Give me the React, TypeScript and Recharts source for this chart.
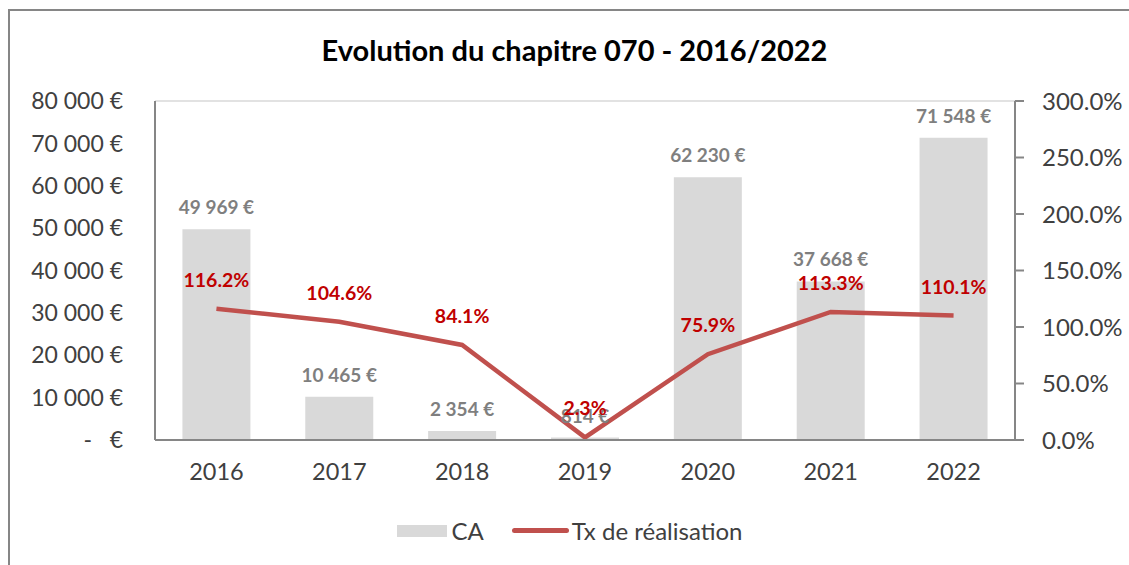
import React from 'react';
import {
  ComposedChart, Bar, Line, XAxis, YAxis, CartesianGrid, Legend, LabelList,
} from 'recharts';

const years = ['2016', '2017', '2018', '2019', '2020', '2021', '2022'];
const ca = [49969, 10465, 2354, 814, 62230, 37668, 71548];
const tauxRealisation = [116.2, 104.6, 84.1, 2.3, 75.9, 113.3, 110.1];
const caTicks = [0, 10000, 20000, 30000, 40000, 50000, 60000, 70000, 80000];
const tauxTicks = [0, 50, 100, 150, 200, 250, 300];

const data = years.map((y, i) => ({ year: y, ca: ca[i], taux: tauxRealisation[i] }));

const FONT = 'Lato, "Open Sans", sans-serif';
const BAR_GREY = '#d9d9d9';
const LINE_RED = '#c0504d';
const LABEL_RED = '#c00000';
const AXIS_GREY = '#868686';
const TEXT = '#404040';

const fmtEuro = (v: number) => {
  if (v === 0) return '-\u00a0\u00a0\u00a0€';
  return `${Math.round(v).toString().replace(/\B(?=(\d{3})+(?!\d))/g, '\u00a0')} €`;
};

function LegendContent() {
  return (
    <div style={{ display: 'flex', justifyContent: 'center', alignItems: 'center',
      fontFamily: FONT, fontSize: 24, color: TEXT }}>
      <span style={{ display: 'inline-block', width: 50, height: 12, background: BAR_GREY, marginRight: 5 }} />
      <span>CA</span>
      <span style={{ display: 'inline-block', width: 57, height: 5, borderRadius: 3,
        background: LINE_RED, marginLeft: 28, marginRight: 3 }} />
      <span>Tx de réalisation</span>
    </div>
  );
}

export default function App() {
  return (
    <div style={{
      position: 'fixed', left: 8, top: 9, width: 1121, height: 556,
      borderTop: `2px solid ${AXIS_GREY}`, borderLeft: `2px solid ${AXIS_GREY}`,
      background: '#fff', fontFamily: FONT,
    }}>
      <div style={{ position: 'absolute', left: 0, top: 21, width: 1129, textAlign: 'center',
        fontSize: 29, fontWeight: 700, color: '#000' }}>
        Evolution du chapitre 070 - 2016/2022
      </div>
      <ComposedChart width={1119} height={554} data={data}
        margin={{ top: 90, right: 14, left: 10, bottom: 95 }} barCategoryGap="21.5%">
        <CartesianGrid vertical={false} stroke="#d9d9d9" strokeWidth={1.5} />
        <XAxis dataKey="year" axisLine={{ stroke: AXIS_GREY, strokeWidth: 2 }} tickLine={false}
          tickSize={0} tickMargin={23} height={30}
          tick={{ fontSize: 23.5, fill: TEXT, fontFamily: FONT }} />
        <YAxis yAxisId="left" width={135} domain={[0, 80000]} ticks={caTicks}
          tickFormatter={fmtEuro} axisLine={{ stroke: AXIS_GREY, strokeWidth: 2 }} tickLine={false}
          tickSize={0} tickMargin={32} tick={{ fontSize: 23, fill: TEXT, fontFamily: FONT }} />
        <YAxis yAxisId="right" orientation="right" width={100} domain={[0, 300]} ticks={tauxTicks}
          tickFormatter={(v: number) => `${v.toFixed(1)}%`}
          axisLine={{ stroke: AXIS_GREY, strokeWidth: 2 }} tickLine={{ stroke: AXIS_GREY, strokeWidth: 2 }}
          tickSize={9} tickMargin={18} tick={{ fontSize: 24, fill: TEXT, fontFamily: FONT }} />
        <Legend layout="horizontal" verticalAlign="middle" align="center" content={<LegendContent />}
          wrapperStyle={{ top: 505, left: 0, width: 1119, height: 30 }} />
        <Bar yAxisId="left" dataKey="ca" name="CA" fill={BAR_GREY} stroke="#ffffff" strokeWidth={2}
          isAnimationActive={false}>
          <LabelList dataKey="ca" position="top" offset={14} formatter={(v: any) => fmtEuro(Number(v))}
            style={{ fontSize: 19, fontWeight: 700, fill: '#7f7f7f', fontFamily: FONT }} />
        </Bar>
        <Line yAxisId="right" dataKey="taux" name="Tx de réalisation" type="linear" stroke={LINE_RED}
          strokeWidth={4.5} dot={false} activeDot={false} isAnimationActive={false}>
          <LabelList dataKey="taux" position="top" offset={22} formatter={(v: any) => `${Number(v).toFixed(1)}%`}
            style={{ fontSize: 19.5, fontWeight: 700, fill: LABEL_RED, fontFamily: FONT }} />
        </Line>
      </ComposedChart>
    </div>
  );
}
